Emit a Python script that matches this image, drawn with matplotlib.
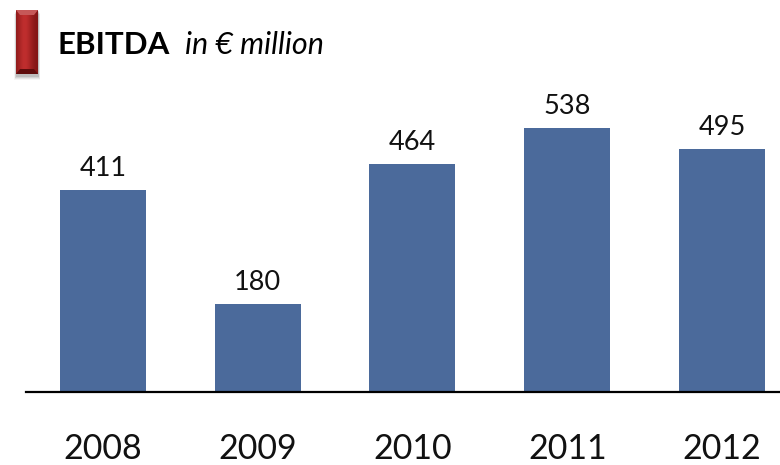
import numpy as np
import matplotlib
matplotlib.use("Agg")
import matplotlib.pyplot as plt
from matplotlib.patches import Polygon

years = ["2008", "2009", "2010", "2011", "2012"]
ebitda = [411, 180, 464, 538, 495]

plt.rcParams['font.family'] = ['Lato', 'DejaVu Sans']

W, H = 780, 465
fig = plt.figure(figsize=(W / 100, H / 100), dpi=100)

# main bar axes, bottom spine is the baseline
ax = fig.add_axes([26 / W, 73 / H, 754 / W, 312 / H])
x = np.arange(len(years))
ax.bar(x, ebitda, width=0.556, color="#4B6A9B")
ax.set_xlim(-0.4975, 4.375)
ax.set_ylim(0, 635.5)
for s in ["top", "left", "right"]:
    ax.spines[s].set_visible(False)
ax.spines["bottom"].set_linewidth(1.6)
ax.spines["bottom"].set_color("black")
ax.set_yticks([])
ax.set_xticks([])

for xi, v, yr in zip(x, ebitda, years):
    ax.annotate(str(v), (xi, v), xytext=(0, 10), textcoords="offset points",
                ha="center", va="baseline", fontsize=19.5, color="#111111")
    ax.annotate(yr, (xi, 0), xytext=(0, -48.5), textcoords="offset points",
                ha="center", va="baseline", fontsize=24.5, color="#111111",
                annotation_clip=False)

# title
fig.text(57 / W, 1 - 54 / H, "EBITDA", fontsize=22.5, fontweight="bold",
         ha="left", va="baseline")
fig.text(185 / W, 1 - 54 / H, "in € million", fontsize=22, fontstyle="italic",
         ha="left", va="baseline")

# red bevelled marker next to the title
iax = fig.add_axes([12 / W, 1 - 80 / H, 30 / W, 72 / H])
iax.set_xlim(0, 30)
iax.set_ylim(0, 72)
iax.axis("off")
# soft shadow
for k, a in enumerate([0.04, 0.06, 0.08, 0.10]):
    iax.add_patch(plt.Rectangle((2 + k * 0.5, 0.5 + k), 26 - k, 66, color="black",
                                alpha=a, lw=0))
grad = np.linspace(0, 1, 50)
prof = np.exp(-((grad - 0.4) / 0.35) ** 2)
img = np.zeros((1, 50, 3))
img[0, :, 0] = 0.50 + 0.25 * prof
img[0, :, 1] = 0.08 + 0.10 * prof
img[0, :, 2] = 0.08 + 0.10 * prof
iax.imshow(img, extent=(4, 26, 6, 70), aspect="auto", zorder=2)
# top and bottom bevels
iax.add_patch(Polygon([(4, 70), (26, 70), (22, 65), (8, 65)], closed=True,
                      color="#c65858", lw=0, zorder=3))
iax.add_patch(Polygon([(4, 6), (26, 6), (22, 11), (8, 11)], closed=True,
                      color="#5e0c0c", lw=0, zorder=3))

fig.savefig("out.png", dpi=100)
